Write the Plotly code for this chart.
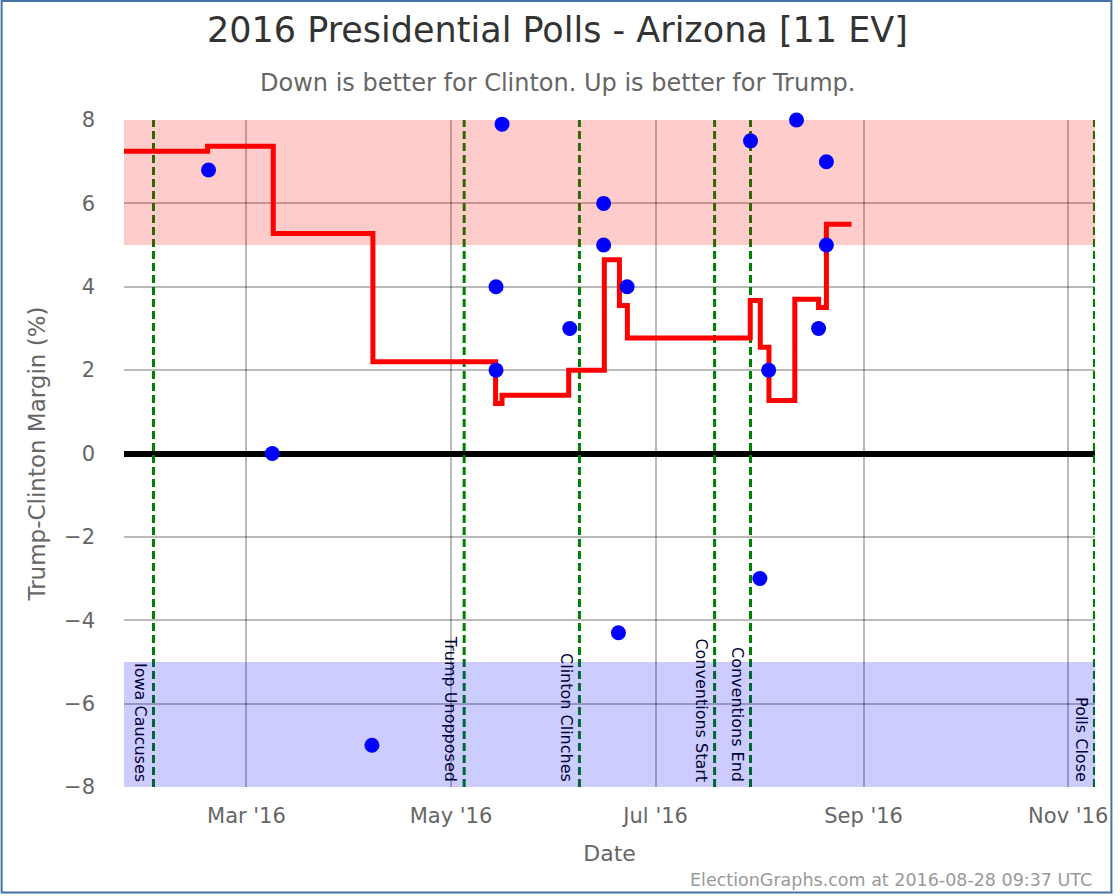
import plotly.graph_objects as go

# ---------------- data ----------------
poll_dates = ["2016-02-18 17:00", "2016-03-08 17:00", "2016-04-07 10:00", "2016-05-14 10:00",
              "2016-05-14 10:00", "2016-05-16 05:00", "2016-06-05 10:00", "2016-06-15 12:00",
              "2016-06-15 12:00", "2016-06-19 22:00", "2016-06-22 12:00", "2016-07-29 07:00",
              "2016-08-01 02:00", "2016-08-03 17:00", "2016-08-12 00:00", "2016-08-18 14:00",
              "2016-08-20 22:00", "2016-08-20 22:00"]
poll_margins = [6.8, 0, -7, 4, 2, 7.9, 3, 6, 5, -4.3, 4, 7.5, -3, 2, 8, 3, 7, 5]

avg_dates = ["2016-01-24 12:00", "2016-02-18 10:00", "2016-03-09 00:00", "2016-04-07 17:00",
             "2016-05-14 07:00", "2016-05-16 05:00", "2016-06-05 02:00", "2016-06-15 17:00",
             "2016-06-20 05:00", "2016-06-22 14:00", "2016-07-29 05:00", "2016-08-01 05:00",
             "2016-08-03 19:00", "2016-08-11 12:00", "2016-08-18 14:00", "2016-08-20 22:00",
             "2016-08-28 09:37"]
avg_margins = [7.25, 7.37, 5.28, 2.2, 1.2, 1.4, 2.0, 4.65, 3.55, 2.77, 3.67, 2.55, 1.27,
               3.7, 3.5, 5.5, 5.5]

event_names = ["Iowa Caucuses", "Trump Unopposed", "Clinton Clinches", "Conventions Start",
               "Conventions End", "Polls Close"]
event_dates = ["2016-02-02 07:00", "2016-05-04 22:00", "2016-06-08 07:00", "2016-07-18 14:00",
               "2016-07-29 07:00", "2016-11-08 20:00"]

x_start, x_end = "2016-01-24 12:00", "2016-11-09 00:00"
y_min, y_max = -8, 8
trump_band = (5, 8)
clinton_band = (-8, -5)

# ---------------- layout helpers ----------------
W, H = 1120, 896
ML, MR, MT, MB = 124, 20, 120, 109
PW, PH = W - ML - MR, H - MT - MB


def xp(px):
    return (px - ML) / PW


def yp(py):
    return 1 - (py - MT) / PH


FONT = "DejaVu Sans"
GRID = "rgba(0,0,0,0.27)"
fig = go.Figure()

# event lines (drawn under the bands)
ev_x, ev_y = [], []
for d in event_dates:
    ev_x += [d, d, None]
    ev_y += [y_min, y_max, None]
fig.add_trace(go.Scatter(x=ev_x, y=ev_y, mode="lines",
                         line=dict(color="#008000", width=3, dash="8px,4px"),
                         hoverinfo="skip", showlegend=False))

# bands
for (lo, hi), col in [(trump_band, "rgba(255,0,0,0.2)"), (clinton_band, "rgba(0,0,255,0.2)")]:
    fig.add_trace(go.Scatter(x=[x_start, x_end, x_end, x_start, x_start],
                             y=[lo, lo, hi, hi, lo], mode="lines", fill="toself",
                             fillcolor=col, line=dict(width=0), hoverinfo="skip",
                             showlegend=False))

# average line
fig.add_trace(go.Scatter(x=avg_dates, y=avg_margins, mode="lines", line_shape="hv",
                         line=dict(color="#ff0000", width=5), showlegend=False))

# polls
fig.add_trace(go.Scatter(x=poll_dates, y=poll_margins, mode="markers",
                         marker=dict(color="#0000ff", size=15), cliponaxis=False,
                         showlegend=False))

annotations = []
for name, d in zip(event_names, event_dates):
    annotations.append(dict(x=d, y=y_min, xref="x", yref="y", text=name, showarrow=False,
                            textangle=90, xanchor="center", yanchor="bottom",
                            xshift=-13, yshift=3,
                            font=dict(family=FONT, size=16, color="#000033")))

annotations += [
    dict(x=xp(560), y=yp(30), xref="paper", yref="paper", showarrow=False,
         text="2016 Presidential Polls - Arizona [11 EV]", xanchor="center", yanchor="middle",
         font=dict(family=FONT, size=35, color="#333333")),
    dict(x=xp(560), y=yp(83), xref="paper", yref="paper", showarrow=False,
         text="Down is better for Clinton. Up is better for Trump.", xanchor="center",
         yanchor="middle", font=dict(family=FONT, size=24, color="#666666")),
    dict(x=xp(1099), y=yp(880), xref="paper", yref="paper", showarrow=False,
         text="ElectionGraphs.com at 2016-08-28 09:37 UTC", xanchor="right", yanchor="middle",
         font=dict(family=FONT, size=17.5, color="#999999")),
]

fig.update_layout(
    width=W, height=H,
    margin=dict(l=ML, r=MR, t=MT, b=MB, pad=0),
    paper_bgcolor="white", plot_bgcolor="white",
    font=dict(family=FONT, color="#666666"),
    annotations=annotations,
    shapes=[dict(type="rect", xref="paper", yref="paper", x0=xp(1), x1=xp(1116.5),
                 y0=yp(1), y1=yp(892.5), line=dict(color="#4572a7", width=2))],
    showlegend=False,
)

fig.update_xaxes(range=[x_start, x_end], type="date", dtick="M2", tick0="2016-01-01",
                 tickformat="%b '%y", showgrid=True, gridcolor=GRID, gridwidth=2,
                 zeroline=False, showline=False, ticks="", ticklabelstandoff=14,
                 tickfont=dict(family=FONT, size=21, color="#666666"),
                 title=dict(text="Date", standoff=18, font=dict(family=FONT, size=22, color="#666666")))
fig.update_yaxes(range=[y_min, y_max], dtick=2, showgrid=True, gridcolor=GRID,
                 gridwidth=2, zeroline=True, zerolinecolor="#000000", zerolinewidth=6,
                 showline=False, ticks="", ticklabelstandoff=28,
                 tickfont=dict(family=FONT, size=21, color="#666666"),
                 title=dict(text="Trump-Clinton Margin (%)", standoff=11,
                            font=dict(family=FONT, size=23, color="#666666")))

fig.write_html(
    "out.html",
    config={"displayModeBar": False},
    post_script=("document.body.style.margin='0px';"
                 "document.body.style.overflow='hidden';"
                 "document.documentElement.style.overflow='hidden';"),
)
